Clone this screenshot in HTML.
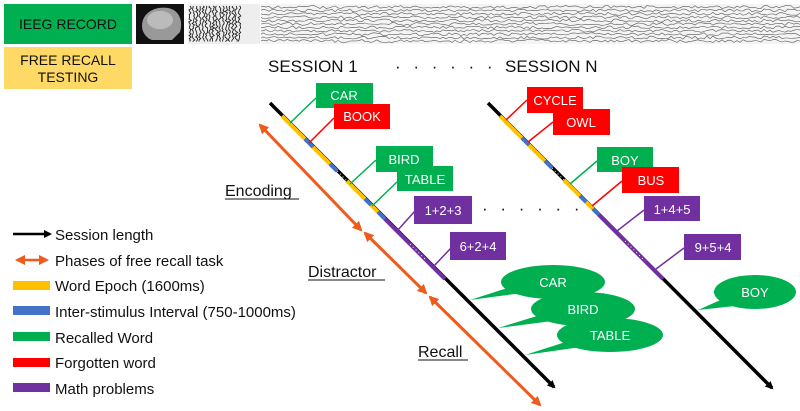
<!DOCTYPE html>
<html><head><meta charset="utf-8"><style>
html,body{margin:0;padding:0;background:#fff;width:800px;height:411px;overflow:hidden}
svg{display:block;font-family:"Liberation Sans",Arial,sans-serif}
</style></head><body>
<svg id="s" width="800" height="411" viewBox="0 0 800 411" xmlns="http://www.w3.org/2000/svg">
<defs>
<marker id="ab" markerWidth="8" markerHeight="8" refX="6" refY="4" orient="auto" markerUnits="userSpaceOnUse"><path d="M0,0 L8,4 L0,8 Z" fill="#000"/></marker>
<marker id="ao" markerWidth="10" markerHeight="10" refX="8" refY="5" orient="auto" markerUnits="userSpaceOnUse"><path d="M0,0 L10,5 L0,10 Z" fill="#f05a1a"/></marker>
<marker id="aos" markerWidth="10" markerHeight="10" refX="8" refY="5" orient="auto-start-reverse" markerUnits="userSpaceOnUse"><path d="M0,0 L10,5 L0,10 Z" fill="#f05a1a"/></marker>
</defs>
<rect x="4" y="4" width="128" height="40" fill="#00b050"/>
<text x="68" y="29" font-size="14" text-anchor="middle" fill="#111">IEEG RECORD</text>
<rect x="4" y="47" width="128" height="42" fill="#ffd966"/>
<text x="68" y="65" font-size="14" text-anchor="middle" fill="#111">FREE RECALL</text>
<text x="68" y="82" font-size="14" text-anchor="middle" fill="#111">TESTING</text>
<rect x="136" y="4" width="48" height="40" fill="#111"/>
<path d="M142,26 C142,12 156,6 168,8 C180,10 183,22 180,32 L172,40 L152,40 C146,38 142,32 142,26 Z" fill="#999"/>
<ellipse cx="160" cy="20" rx="13" ry="9" fill="#bbb"/>
<rect x="188" y="4" width="72" height="40" fill="#eee"/>
<g id="spk"></g>
<rect x="261" y="4" width="539" height="40" fill="#f4f4f4"/>
<g id="eeg"></g>
<text x="268" y="72" font-size="17" fill="#111">SESSION 1</text>
<text x="395" y="72" font-size="17" fill="#111" letter-spacing="4">· · · · · ·</text>
<text x="505" y="72" font-size="17" fill="#111">SESSION N</text>

<line x1="270" y1="103" x2="554" y2="387" stroke="#000" stroke-width="3.5" marker-end="url(#ab)"/>
<g stroke-width="4">
<line x1="282" y1="116" x2="305" y2="139" stroke="#ffc000"/>
<line x1="305" y1="139" x2="313" y2="147" stroke="#4472c4"/>
<line x1="313" y1="147" x2="330" y2="164" stroke="#ffc000"/>
<line x1="330" y1="164" x2="337" y2="171" stroke="#4472c4"/>
<line x1="347" y1="181" x2="365" y2="199" stroke="#ffc000"/>
<line x1="365" y1="199" x2="371" y2="205" stroke="#4472c4"/>
<line x1="371" y1="205" x2="378" y2="212" stroke="#ffc000"/>
<line x1="378" y1="212" x2="385" y2="219" stroke="#4472c4"/>
<line x1="385" y1="219" x2="445" y2="279" stroke="#7030a0"/>
</g>
<line x1="337" y1="171" x2="347" y2="181" stroke="#fff" stroke-width="1" stroke-dasharray="1 3"/>
<line x1="410" y1="244" x2="425" y2="259" stroke="#fff" stroke-width="1" stroke-dasharray="1 3"/>
<g font-size="13" fill="#fff" text-anchor="middle">
<line x1="290" y1="123" x2="316" y2="98" stroke="#00b050" stroke-width="1.5"/>
<rect x="316" y="83" width="57" height="25" fill="#00b050"/><text x="344" y="100">CAR</text>
<line x1="309" y1="143" x2="334" y2="118" stroke="#ff0000" stroke-width="1.5"/>
<rect x="334" y="104" width="56" height="25" fill="#ff0000"/><text x="362" y="121">BOOK</text>
<line x1="350" y1="184" x2="376" y2="160" stroke="#00b050" stroke-width="1.5"/>
<rect x="376" y="146" width="57" height="26" fill="#00b050"/><text x="404" y="164">BIRD</text>
<line x1="372" y1="206" x2="397" y2="182" stroke="#00b050" stroke-width="1.5"/>
<rect x="397" y="166" width="56" height="25" fill="#00b050"/><text x="425" y="184">TABLE</text>
<line x1="397" y1="231" x2="415" y2="211" stroke="#7030a0" stroke-width="1.5"/>
<rect x="414" y="196" width="58" height="28" fill="#7030a0"/><text x="443" y="215">1+2+3</text>
<line x1="433" y1="267" x2="451" y2="248" stroke="#7030a0" stroke-width="1.5"/>
<rect x="450" y="232" width="56" height="28" fill="#7030a0"/><text x="478" y="251">6+2+4</text>
</g>
<text x="482" y="214" font-size="17" fill="#111" letter-spacing="4">· · · · · ·</text>
<g stroke="#f05a1a" stroke-width="3">
<line x1="260" y1="125" x2="361" y2="230" marker-start="url(#aos)" marker-end="url(#ao)"/>
<line x1="365" y1="233" x2="426" y2="293" marker-start="url(#aos)" marker-end="url(#ao)"/>
<line x1="430" y1="297" x2="540" y2="405" marker-start="url(#aos)" marker-end="url(#ao)"/>
</g>
<g font-size="16" fill="#111">
<text x="225" y="196">Encoding</text>
<text x="308" y="277">Distractor</text>
<text x="418" y="357">Recall</text>
</g>
<line x1="225" y1="199" x2="299" y2="199" stroke="#111"/>
<line x1="308" y1="280" x2="385" y2="280" stroke="#111"/>
<line x1="418" y1="360" x2="468" y2="360" stroke="#111"/>

<line x1="488" y1="103" x2="772" y2="388" stroke="#000" stroke-width="3.5" marker-end="url(#ab)"/>
<g stroke-width="4">
<line x1="500" y1="116" x2="522" y2="138" stroke="#ffc000"/>
<line x1="522" y1="138" x2="529" y2="145" stroke="#4472c4"/>
<line x1="529" y1="145" x2="545" y2="161" stroke="#ffc000"/>
<line x1="545" y1="161" x2="552" y2="168" stroke="#4472c4"/>
<line x1="564" y1="180" x2="580" y2="196" stroke="#ffc000"/>
<line x1="580" y1="196" x2="586" y2="202" stroke="#4472c4"/>
<line x1="586" y1="202" x2="593" y2="209" stroke="#ffc000"/>
<line x1="593" y1="209" x2="599" y2="215" stroke="#4472c4"/>
<line x1="599" y1="215" x2="663" y2="279" stroke="#7030a0"/>
</g>
<line x1="552" y1="168" x2="564" y2="180" stroke="#fff" stroke-width="1" stroke-dasharray="1 3"/>
<line x1="625" y1="241" x2="645" y2="261" stroke="#fff" stroke-width="1" stroke-dasharray="1 3"/>
<g font-size="13" fill="#fff" text-anchor="middle">
<line x1="506" y1="120" x2="527" y2="100" stroke="#ff0000" stroke-width="1.5"/>
<rect x="527" y="87" width="56" height="26" fill="#ff0000"/><text x="555" y="105">CYCLE</text>
<line x1="528" y1="142" x2="553" y2="122" stroke="#ff0000" stroke-width="1.5"/>
<rect x="553" y="109" width="57" height="26" fill="#ff0000"/><text x="581" y="127">OWL</text>
<line x1="570" y1="184" x2="597" y2="161" stroke="#00b050" stroke-width="1.5"/>
<rect x="597" y="147" width="56" height="25" fill="#00b050"/><text x="625" y="165">BOY</text>
<line x1="592" y1="206" x2="622" y2="181" stroke="#ff0000" stroke-width="1.5"/>
<rect x="622" y="167" width="57" height="26" fill="#ff0000"/><text x="651" y="185">BUS</text>
<line x1="617" y1="231" x2="644" y2="210" stroke="#7030a0" stroke-width="1.5"/>
<rect x="644" y="196" width="56" height="25" fill="#7030a0"/><text x="672" y="214">1+4+5</text>
<line x1="656" y1="269" x2="684" y2="248" stroke="#7030a0" stroke-width="1.5"/>
<rect x="684" y="234" width="57" height="26" fill="#7030a0"/><text x="713" y="252">9+5+4</text>
</g>

<g fill="#00b050">
<path d="M470,300 L520,284 L530,292 Z"/><ellipse cx="553" cy="282" rx="52" ry="17"/>
<path d="M498,328 L550,312 L560,320 Z"/><ellipse cx="583" cy="309" rx="52" ry="17"/>
<path d="M525,355 L578,338 L588,346 Z"/><ellipse cx="610" cy="335" rx="53" ry="17"/>
<path d="M698,310 L725,298 L735,306 Z"/><ellipse cx="755" cy="292" rx="41" ry="17"/>
</g>
<g font-size="13" fill="#fff" text-anchor="middle">
<text x="553" y="287">CAR</text><text x="583" y="314">BIRD</text><text x="610" y="340">TABLE</text><text x="755" y="297">BOY</text>
</g>

<line x1="13" y1="234" x2="50" y2="234" stroke="#000" stroke-width="2.5" marker-end="url(#ab)"/>
<line x1="17" y1="260" x2="47" y2="260" stroke="#f05a1a" stroke-width="2.5" marker-start="url(#aos)" marker-end="url(#ao)"/>
<rect x="13" y="281" width="37" height="9" fill="#ffc000"/>
<rect x="13" y="306" width="37" height="9" fill="#4472c4"/>
<rect x="13" y="332" width="37" height="9" fill="#00b050"/>
<rect x="13" y="358" width="37" height="9" fill="#ff0000"/>
<rect x="13" y="383" width="37" height="9" fill="#7030a0"/>
<g font-size="15" fill="#111">
<text x="55" y="240">Session length</text>
<text x="55" y="266">Phases of free recall task</text>
<text x="55" y="291">Word Epoch (1600ms)</text>
<text x="55" y="317">Inter-stimulus Interval (750-1000ms)</text>
<text x="55" y="343">Recalled Word</text>
<text x="55" y="368">Forgotten word</text>
<text x="55" y="394">Math problems</text>
</g>
</svg>
<script>
(function(){
var ns="http://www.w3.org/2000/svg",s=1;
function r(){s=(s*9301+49297)%233280;return s/233280;}
var g=document.getElementById("eeg");
for(var k=0;k<11;k++){var y=7+k*3.4,d="M261,"+y;for(var x=263;x<=800;x+=3){d+=" L"+x+","+(y+(r()-0.5)*3).toFixed(1);}
var p=document.createElementNS(ns,"path");p.setAttribute("d",d);p.setAttribute("stroke","#555");p.setAttribute("stroke-width","0.6");p.setAttribute("fill","none");g.appendChild(p);}
var h=document.getElementById("spk");
for(var i=0;i<16;i++){var x=190+i*3.3,d="M"+x+",6";for(var y=7;y<=42;y+=1.5){d+=" L"+(x+(r()-0.5)*3).toFixed(1)+","+y;}
var p=document.createElementNS(ns,"path");p.setAttribute("d",d);p.setAttribute("stroke","#222");p.setAttribute("stroke-width","0.9");p.setAttribute("fill","none");h.appendChild(p);}
})();
</script>
</body></html>
